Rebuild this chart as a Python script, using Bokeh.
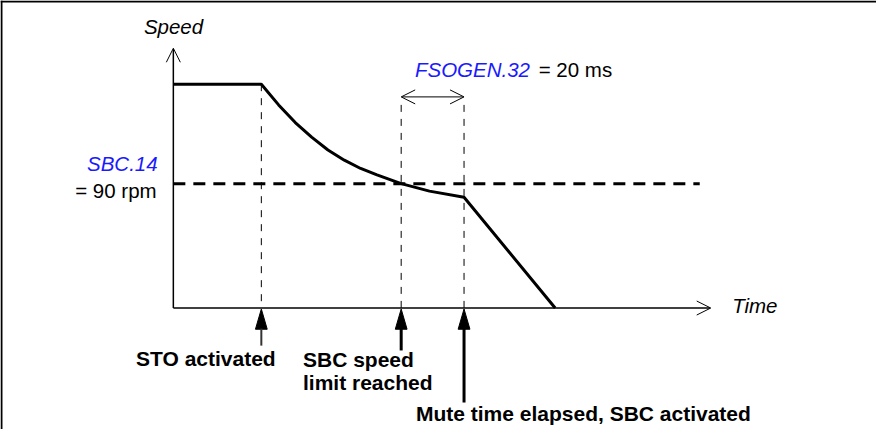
from bokeh.plotting import figure
from bokeh.models import Range1d, Label, Arrow, OpenHead, Span
from bokeh.embed import file_html
from bokeh.resources import INLINE

# ---------------- data (time in ms, speed in rpm) ----------------
curve_t = [0, 28.0, 33.5, 38.8, 44.0, 49.2, 54.4, 59.6, 64.8, 72.5, 81.5, 92.5, 121.5]
curve_speed = [162, 162, 147.0, 134.2, 123.7, 114.4, 107.0, 101.0, 96.3, 90.0, 84.6, 80.2, 0]
speed_limit = 90            # SBC.14 = 90 rpm
limit_line_end = 167.5
event_times = [28.0, 72.5, 92.5]      # STO activated, SBC limit reached, mute time elapsed
event_tops = [162, 147, 147]
mute_time = 20              # FSOGEN.32 = 20 ms
axis_t_max = 171
axis_speed_max = 188

# ---------------- layout helpers (reference pixels -> data) ----------------
PX_PER_MS = 3.2
PX_PER_RPM = 129 / 90
X0, Y0 = 176, 319


def tx(px):
    return (px - X0) / PX_PER_MS


def sy(py):
    return (Y0 - py) / PX_PER_RPM


FONT = "Liberation Sans"
FS = "20.5px"
FSB = "21px"

p = figure(width=876, height=429, output_backend="svg", toolbar_location=None,
           x_axis_type=None, y_axis_type=None, min_border=0,
           x_range=Range1d(tx(0), tx(892)), y_range=Range1d(sy(445), sy(0)))
p.grid.visible = False
p.outline_line_color = None
p.background_fill_color = "white"
p.border_fill_color = "white"

# image border (top and left)
p.add_layout(Span(location=sy(1), dimension="width", line_color="black", line_width=2))
p.add_layout(Span(location=tx(1), dimension="height", line_color="black", line_width=2))

# axes with open arrow heads
p.add_layout(Arrow(x_start=0, y_start=0, x_end=0, y_end=axis_speed_max,
                   line_width=1.5, end=OpenHead(size=14, line_width=1)))
p.add_layout(Arrow(x_start=0, y_start=0, x_end=axis_t_max, y_end=0,
                   line_width=1.5, end=OpenHead(size=14, line_width=1)))

# speed limit dashed line
p.line([0, limit_line_end], [speed_limit, speed_limit], line_width=3,
       line_color="black", line_dash="12 8")

# vertical thin dashed lines at events
p.segment(x0=event_times, y0=event_tops, x1=event_times, y1=[0] * len(event_times),
          line_width=1, line_color="black", line_dash="7 7")

# speed curve
p.line(curve_t, curve_speed, line_width=3, line_color="black", line_join="round")

# mute time double arrow
bracket_speed = sy(100)
p.add_layout(Arrow(x_start=event_times[1], y_start=bracket_speed,
                   x_end=event_times[1] + mute_time, y_end=bracket_speed,
                   line_width=1,
                   start=OpenHead(size=14, line_width=1),
                   end=OpenHead(size=14, line_width=1)))

# event arrows below the time axis
tip = sy(320)
head_len = 21 / PX_PER_RPM
head_hw = 6 / PX_PER_MS
shaft_bottoms = [sy(358), sy(363), sy(417)]
shaft_widths = [2, 3, 3]
shaft_colors = ["#333333", "black", "black"]
xs = [[t, t - head_hw, t + head_hw] for t in event_times]
ys = [[tip, tip - head_len, tip - head_len] for _ in event_times]
p.patches(xs, ys, fill_color="black", line_color="black", line_width=1)
p.segment(x0=event_times, y0=[tip - head_len + 0.5] * 3, x1=event_times, y1=shaft_bottoms,
          line_width=shaft_widths, line_color=shaft_colors)


def lab(text, px, py, color="black", style="normal", align="left"):
    p.add_layout(Label(x=tx(px), y=sy(py), text=text, text_font=FONT,
                       text_font_size=FSB if style == "bold" else FS,
                       text_font_style=style, text_color=color,
                       text_align=align, text_baseline="middle"))


lab("Speed", 146, 27, style="italic")
lab("Time", 745, 316, style="italic")
lab("FSOGEN.32", 422, 72, color="#1a1aff", style="italic")
lab("= 20 ms", 548, 72)
lab("SBC.14", 160, 169, color="#1a1aff", style="italic", align="right")
lab("= 90 rpm", 159, 197, align="right")
lab("STO activated", 138, 371, style="bold")
lab("SBC speed", 308, 372, style="bold")
lab("limit reached", 308, 396, style="bold")
lab("Mute time elapsed, SBC activated", 423, 428, style="bold")

open("out.html", "w").write(file_html(p, INLINE))
